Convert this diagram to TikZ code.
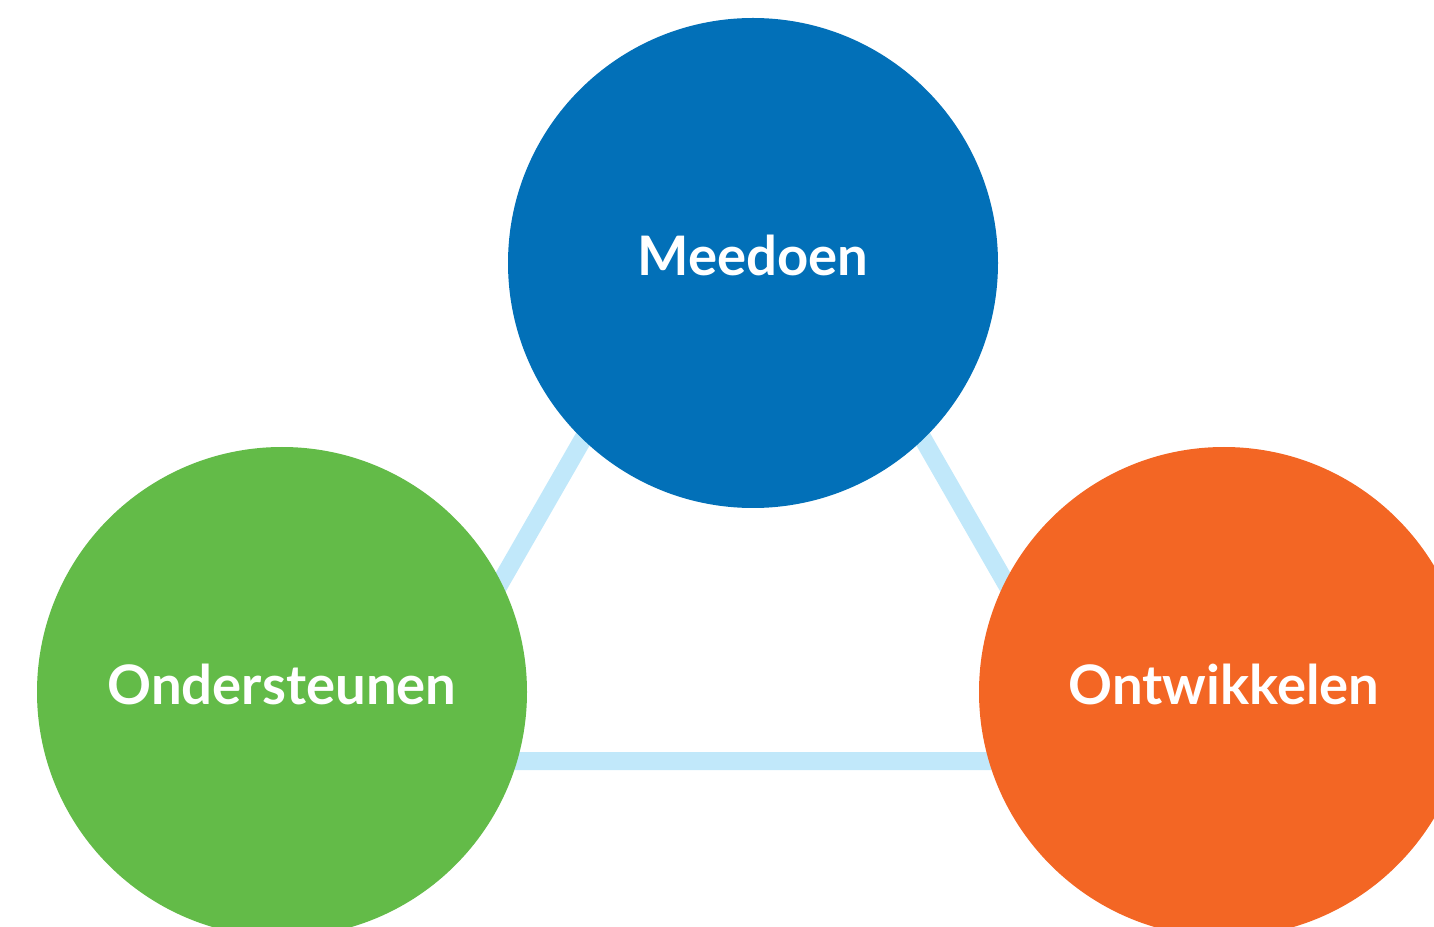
\documentclass[tikz,border=0pt]{standalone}
\usepackage{fontspec}
\setmainfont{Lato}
\usepackage{tikz}
\usetikzlibrary{shapes,positioning}
\definecolor{meeblue}{RGB}{2,112,184}
\definecolor{ondgreen}{RGB}{99,187,72}
\definecolor{ontorange}{RGB}{243,102,36}
\definecolor{linkblue}{RGB}{193,232,250}
\tikzstyle{bubble} = [circle, minimum size=4.9cm, inner sep=0pt, text=white, text height=0.41cm, text depth=0.16cm, font=\fontsize{15.5}{18}\selectfont\bfseries]
\tikzset{
  link/.style ={draw=linkblue, line width=0.18cm, line join=miter}
}
\begin{document}
\begin{tikzpicture}[line cap=butt,x=1.0cm,y=1.0cm]
\useasboundingbox (0,0) rectangle (14.34,9.26);
\clip (0,0) rectangle (14.34,9.26);
% triangle behind the circles
\coordinate (apex) at (7.53,7.83);
\coordinate (baseL) at (3.98,1.65);
\coordinate (baseR) at (11.08,1.65);
\draw[link] (apex) -- (baseL) -- (baseR) -- cycle;
% the three circles
\node[bubble, fill=meeblue] (meedoen) at (7.53,6.63) {Meedoen};
\node[bubble, fill=ondgreen] (ondersteunen) at (2.82,2.34) {Ondersteunen};
\node[bubble, fill=ontorange] (ontwikkelen) at (12.24,2.34) {Ontwikkelen};
\end{tikzpicture}
\end{document}
